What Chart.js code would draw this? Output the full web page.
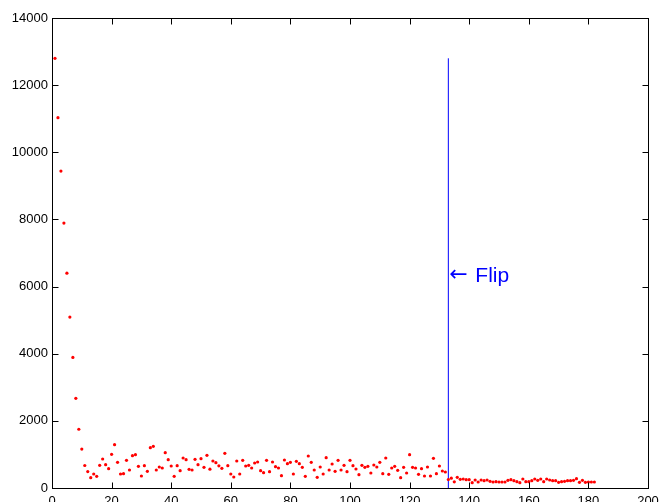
<!DOCTYPE html>
<html>
<head>
<meta charset="utf-8">
<style>
  html, body { margin: 0; padding: 0; background: #fff; overflow: hidden; }
  #wrap { width: 659px; height: 502px; overflow: hidden; }
</style>
</head>
<body>
<div id="wrap">
  <canvas id="myChart" width="659" height="512"></canvas>
</div>

<script src="https://cdn.jsdelivr.net/npm/chart.js"></script>
<script>
  // error per iteration (x = 1, 2, 3, ...)
  const errors = [
    12800, 11030, 9440, 7890, 6400, 5090, 3890, 2670, 1750, 1160,
    670, 490, 308, 417, 348, 675, 864, 695, 576, 1003,
    1291, 765, 417, 427, 824, 536, 963, 993, 645, 357,
    665, 497, 1201, 1241, 536, 626, 596, 1052, 844, 655,
    348, 665, 516, 894, 844, 556, 536, 854, 695, 874,
    616, 973, 561, 804, 755, 660, 586, 1033, 665, 417,
    328, 804, 417, 824, 655, 675, 596, 745, 775, 516,
    457, 824, 487, 775, 636, 596, 367, 834, 725, 765,
    417, 794, 725, 616, 348, 953, 765, 536, 318, 626,
    417, 904, 536, 715, 497, 824, 536, 675, 487, 824,
    665, 566, 397, 675, 616, 645, 447, 685, 626, 765,
    427, 894, 407, 596, 645, 526, 308, 616, 447, 993,
    616, 596, 407, 576, 357, 626, 357, 884, 427, 655,
    506, 477, 253, 293, 184, 318, 258, 268, 248, 248,
    159, 238, 179, 238, 218, 238, 199, 179, 189, 179,
    179, 179, 228, 248, 218, 189, 159, 268, 189, 189,
    218, 268, 228, 268, 189, 268, 238, 218, 218, 169,
    189, 199, 218, 218, 228, 278, 169, 228, 169, 179,
    179, 179
  ];

  const flipAt = 133;
  const flipTop = 12800;
  const flipLabelY = 6350;
  const flipArrow = '\u2190';
  const flipLabel = 'Flip';

  const points = errors.map((v, i) => ({ x: i + 1, y: v }));

  // MATLAB style box with inward ticks + the "Flip" note
  const boxPlugin = {
    id: 'box',
    afterDraw(chart) {
      const { ctx, chartArea: a, scales } = chart;
      const L = Math.round(a.left) + 0.5, R = Math.round(a.right) + 0.5;
      const T = Math.round(a.top) + 0.5, B = Math.round(a.bottom) + 0.5;
      const len = 6;
      ctx.save();
      ctx.strokeStyle = '#000';
      ctx.lineWidth = 1;
      ctx.beginPath();
      scales.x.ticks.forEach((t, i) => {
        const px = Math.round(scales.x.getPixelForTick(i)) + 0.5;
        ctx.moveTo(px, B); ctx.lineTo(px, B - len);
        ctx.moveTo(px, T); ctx.lineTo(px, T + len);
      });
      scales.y.ticks.forEach((t, i) => {
        const py = Math.round(scales.y.getPixelForTick(i)) + 0.5;
        ctx.moveTo(L, py); ctx.lineTo(L + len, py);
        ctx.moveTo(R, py); ctx.lineTo(R - len, py);
      });
      ctx.stroke();
      ctx.strokeRect(L, T, R - L, B - T);

      const fx = scales.x.getPixelForValue(flipAt);
      const fy = scales.y.getPixelForValue(flipLabelY);
      ctx.fillStyle = '#0000ff';
      ctx.textAlign = 'left';
      ctx.textBaseline = 'middle';
      ctx.font = '22px "DejaVu Sans", sans-serif';
      ctx.fillText(flipArrow, fx + 1, fy);
      ctx.textBaseline = 'alphabetic';
      ctx.font = '21px "Liberation Sans", Arial, sans-serif';
      ctx.fillText(flipLabel, fx + 27, fy + 7);
      ctx.restore();
    }
  };

  const tickFont = { family: '"Liberation Sans", Arial, sans-serif', size: 13 };

  new Chart(document.getElementById('myChart').getContext('2d'), {
    type: 'scatter',
    data: {
      datasets: [
        {
          label: 'error',
          data: points,
          backgroundColor: '#ff0000',
          borderWidth: 0,
          pointRadius: 1.6,
          pointHoverRadius: 1.6
        },
        {
          type: 'line',
          label: 'flip',
          data: [{ x: flipAt, y: 0 }, { x: flipAt, y: flipTop }],
          borderColor: '#0000ff',
          borderWidth: 1,
          pointRadius: 0,
          fill: false
        }
      ]
    },
    options: {
      responsive: false,
      animation: false,
      layout: { padding: { top: 18, right: 11, left: 0, bottom: 0 } },
      plugins: {
        legend: { display: false },
        tooltip: { enabled: false }
      },
      scales: {
        x: {
          type: 'linear',
          min: 0,
          max: 200,
          grid: { display: false, drawTicks: false },
          border: { display: false },
          ticks: { stepSize: 20, padding: 6, color: '#000', font: tickFont, maxRotation: 0 },
          afterFit(scale) {
            scale.height = 24;
            scale.paddingLeft = 0;
            scale.paddingRight = 0;
          }
        },
        y: {
          min: 0,
          max: 14000,
          grid: { display: false, drawTicks: false },
          border: { display: false },
          ticks: {
            stepSize: 2000, padding: 4, color: '#000', font: tickFont,
            callback: (v) => String(v)
          },
          afterFit(scale) {
            scale.width = 52;
            scale.paddingTop = 0;
            scale.paddingBottom = 0;
          }
        }
      }
    },
    plugins: [boxPlugin]
  });
</script>
</body>
</html>
